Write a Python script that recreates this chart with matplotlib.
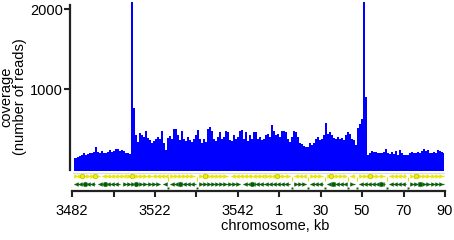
import numpy as np
import matplotlib
matplotlib.use("Agg")
import matplotlib.pyplot as plt

plt.rcParams['font.family'] = ['Liberation Sans', 'DejaVu Sans']

# coverage (number of reads) in equal bins, left to right
cov_left = [135, 140, 150, 165, 175, 200, 180, 190, 205, 195,
            215, 275, 210, 200, 220, 195, 205, 215, 240, 210,
            225, 245, 255, 225, 240, 230, 200, 205, 190]
peak_1 = [2100, 760]
cov_mid = [420, 340, 445, 430, 400, 480, 390, 360, 330, 350,
           370, 400, 380, 470, 330, 240, 390, 410, 380, 505,
           500, 430, 360, 470, 380, 350, 400, 360, 340, 380,
           420, 485, 370, 330, 380, 340, 500, 520, 470, 380,
           350, 400, 460, 380, 400, 470, 460, 360, 350, 420,
           380, 400, 480, 490, 380, 460, 350, 420, 380, 465,
           460, 380, 400, 360, 380, 420, 440, 400, 550, 470,
           420, 440, 400, 470, 480, 460, 380, 340, 400, 470,
           460, 400, 330, 310, 290, 270, 280, 320, 300, 330,
           380, 400, 360, 380, 420, 580, 440, 460, 420, 390,
           380, 400, 370, 390, 360, 420, 465, 440, 380, 360,
           300, 510, 560, 620]
peak_2 = [2100, 900]
cov_right = [180, 200, 225, 215, 210, 195, 205, 200, 215, 255,
             200, 185, 210, 190, 225, 180, 240, 200, 175, 180,
             170, 200, 215, 195, 205, 215, 200, 230, 245, 225,
             240, 205, 195, 210, 200, 235, 230, 215, 200]

x_start = 0.05
bin_w = 0.0483

tick_pos = [0, 1, 2, 3, 4, 5, 6, 7, 8, 9]
tick_labels = ["3482", "", "3522", "", "3542", "1", "30", "50", "70", "90"]
y_ticks = [1000, 2000]

# gene tracks: (start, end, direction)
genes_yellow = [(0.05, 0.68, 1), (0.72, 1.28, -1), (1.33, 1.88, 1), (1.93, 2.27, -1),
                (2.36, 2.97, 1), (3.06, 3.76, 1), (3.84, 4.58, -1), (4.66, 5.26, 1),
                (5.36, 5.65, -1), (5.74, 6.06, 1), (6.15, 6.61, 1), (6.71, 6.83, -1),
                (6.93, 7.55, 1), (7.65, 8.06, -1), (8.16, 8.98, 1)]
genes_green = [(0.05, 0.55, -1), (0.63, 1.16, -1), (1.23, 2.12, 1), (2.20, 2.27, -1),
               (2.36, 2.99, -1), (3.06, 4.05, 1), (4.13, 5.26, -1), (5.36, 5.65, 1),
               (5.74, 6.06, -1), (6.15, 6.61, -1), (6.71, 6.83, 1), (6.93, 7.55, -1),
               (7.65, 8.06, -1), (8.16, 8.98, 1)]
blobs_yellow = [0.25, 0.55, 1.45, 3.2, 4.95, 6.25, 7.2, 8.3]
blobs_green = [0.3, 0.8, 1.55, 2.6, 4.35, 6.3, 7.45, 8.4]
marks = [2.32, 3.02, 5.31, 5.69, 6.10, 6.66, 6.88, 7.60, 8.11]

coverage = np.concatenate([cov_left, peak_1, cov_mid, peak_2, cov_right])
x = x_start + np.arange(len(coverage)) * bin_w

fig = plt.figure(figsize=(4.54, 2.40), dpi=100)
ax = fig.add_axes([70 / 454, 1 - 191 / 240, 375 / 454, 189.1 / 240])

ax.fill_between(x, -20, coverage, step='mid', color='#0000ff', lw=0)
ax.plot([x[0] - bin_w / 2, x[-1] + bin_w / 2], [-45, -45], color='#d8d8ff', lw=0.8)

y_yel = -89
y_grn = -190
for s, e, d in genes_yellow:
    pts = np.arange(s + 0.04, e, 0.1)
    ax.plot([s, e], [y_yel, y_yel], color='#e8e800', lw=0.9, solid_capstyle='butt')
    ax.plot(pts, [y_yel] * len(pts), ls='none', marker='>' if d > 0 else '<',
            ms=3.2, color='#e8e800', mew=0)
ax.plot(blobs_yellow, [y_yel] * len(blobs_yellow), ls='none', marker='o', ms=3.4,
        color='#f0f000', mec='#b0b000', mew=0.4)
for s, e, d in genes_green:
    pts = np.arange(s + 0.04, e, 0.1)
    ax.plot([s, e], [y_grn, y_grn], color='#1f7a1f', lw=0.9, solid_capstyle='butt')
    ax.plot(pts, [y_grn] * len(pts), ls='none', marker='>' if d > 0 else '<',
            ms=3.2, color='#0f5f0f', mew=0)
ax.plot(blobs_green, [y_grn] * len(blobs_green), ls='none', marker='o', ms=3.4,
        color='#0a560a', mec='#3a9a3a', mew=0.4)
ax.plot(marks, [-127] * len(marks), ls='none', marker='|', ms=3, mew=0.8, color='#e0e000')
ax.plot(marks, [-242] * len(marks), ls='none', marker='s', ms=1.4, mew=0, color='#0f5f0f')

ax.set_xlim(-0.05, 9)
ax.set_ylim(-277, 2095)

for side in ['top', 'right']:
    ax.spines[side].set_visible(False)
ax.spines['left'].set_bounds(-15, 2056)
ax.spines['bottom'].set_bounds(0, 9)
for side in ['left', 'bottom']:
    ax.spines[side].set_linewidth(1.6)
    ax.spines[side].set_color('#222222')

ax.set_xticks(tick_pos)
ax.set_xticklabels(tick_labels)
ax.set_yticks(y_ticks)
ax.set_yticklabels([str(v) for v in y_ticks])
ax.tick_params(axis='both', length=4, width=1.5, color='#222222', labelsize=10.5)
ax.tick_params(axis='y', pad=1)
ax.tick_params(axis='x', pad=5.5)

ax.set_ylabel("coverage\n(number of reads)", fontsize=10.5, linespacing=1.0)
ax.yaxis.set_label_coords(-0.115, 0.5)
ax.set_xlabel("chromosome, kb", fontsize=10.5)
ax.xaxis.set_label_coords(0.547, -0.15)

fig.savefig("out.png", dpi=100)
